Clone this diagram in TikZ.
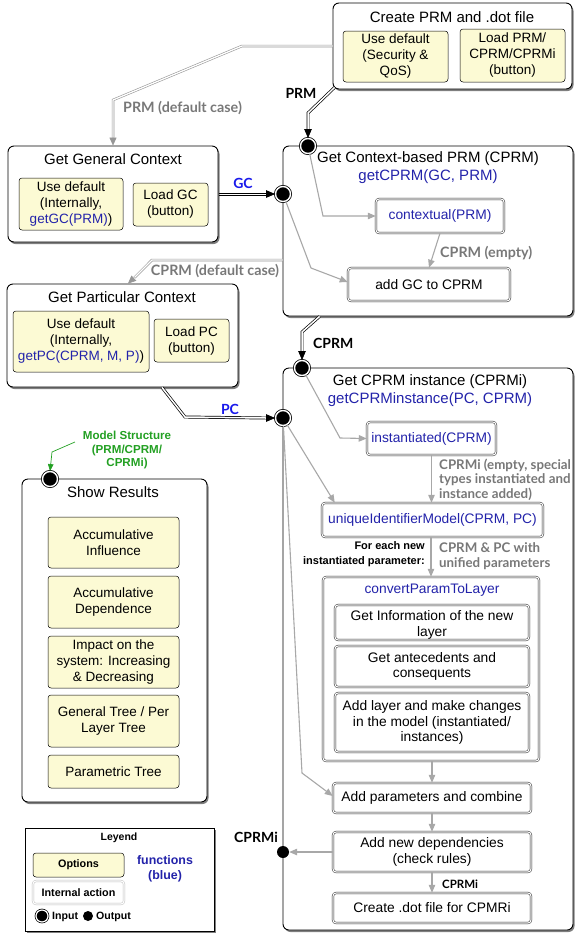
\documentclass[tikz,border=0pt]{standalone}
\usepackage{fontspec}
\setmainfont{Liberation Sans}
\newfontfamily\labfont{Lato}
\usetikzlibrary{shadows,arrows.meta,calc}

\definecolor{optyellow}{RGB}{252,250,212}
\definecolor{fnblue}{RGB}{35,35,170}
\definecolor{lblblue}{RGB}{25,25,235}
\definecolor{flowgray}{RGB}{168,168,168}
\definecolor{pathgray}{RGB}{150,150,150}
\definecolor{lblgray}{RGB}{120,120,120}
\definecolor{msgreen}{RGB}{35,160,35}

\newcommand\fsz[2]{\fontsize{#1pt}{#2pt}\selectfont}

\begin{document}
\begin{tikzpicture}[x=1pt,y=-1pt,
  frame/.style={draw=black, line width=0.9pt, rounded corners=6pt, fill=white,
    inner sep=0pt,
    drop shadow={shadow xshift=1.5pt, shadow yshift=-2pt, opacity=0.5, fill=black}},
  legendbox/.style={draw=black, line width=0.7pt, fill=white, inner sep=0pt,
    drop shadow={shadow xshift=1.5pt, shadow yshift=-2pt, opacity=0.5, fill=black}},
  title/.style={font={\fsz{15}{18}}, inner sep=0pt},
  fn/.style={font={\fsz{15}{18}}, text=fnblue, inner sep=0pt},
  opt/.style={draw=black, line width=0.5pt, rounded corners=3pt, fill=optyellow,
    align=center, inner sep=0pt, font={\fsz{13.5}{16}}},
  act/.style={draw=black!85, line width=0.5pt, double=white, double distance=1.1pt,
    rounded corners=3pt, fill=white, align=center, inner sep=0pt,
    font={\fsz{13.8}{15.8}}},
  inport/.style={circle, fill=black, draw=black, line width=0.8pt, double=white,
    double distance=1.4pt, minimum size=15pt, inner sep=0pt},
  outport/.style={circle, fill=black, minimum size=12pt, inner sep=0pt},
  dblblack/.style={draw=black, line width=0.7pt, double=white, double distance=1.5pt},
  rail/.style={draw=black, line width=0.7pt},
  blacktip/.style={draw=black, line width=0.7pt, -{Triangle[length=9pt,width=7.5pt]}},
  dblgray/.style={draw=pathgray, line width=0.6pt, double=white, double distance=1.3pt},
  graytip/.style={draw=pathgray, line width=0.6pt,
    -{Triangle[length=8pt,width=7pt]}},
  flow/.style={draw=flowgray, line width=1.1pt, -{Triangle[length=8pt,width=6.5pt]}},
  lbl/.style={font={\labfont\bfseries\fsz{14.3}{14.5}}, text=lblgray, inner sep=0pt, align=left},
  lbls/.style={lbl, font={\labfont\bfseries\fsz{13.3}{14.5}}},
  blbl/.style={font={\labfont\bfseries\fsz{14}{15}}, text=black, inner sep=0pt},
  smallb/.style={font={\bfseries\fsz{11}{15}}, inner sep=0pt},
]
\useasboundingbox (0,0) rectangle (576,938);

% ---------- Create PRM and .dot file ----------
\node[frame, minimum width=239pt, minimum height=86pt] (create) at (452.5,46) {};
\node[title] (createT) at (452,17) {Create PRM and .dot file};
\node[opt, minimum width=105pt, minimum height=51pt] (defqos) at (395.5,56.5)
  {Use default\\(Security \&\\QoS)};
\node[opt, minimum width=105pt, minimum height=53pt] (loadprm) at (512.5,55.5)
  {Load PRM/\\CPRM/CPRMi\\(button)};

% ---------- Get General Context ----------
\node[frame, minimum width=210pt, minimum height=96pt] (ggc) at (113,194) {};
\node[title] (ggcT) at (113,159) {Get General Context};
\node[opt, minimum width=104pt, minimum height=52pt] (defgc) at (71,204)
  {Use default\\(Internally,\\\textcolor{fnblue}{getGC(PRM)})};
\node[opt, minimum width=75pt, minimum height=43pt] (loadgc) at (170.5,204.5)
  {Load GC\\(button)};

% ---------- Get Particular Context ----------
\node[frame, minimum width=231pt, minimum height=103pt] (gpc) at (122.5,335.5) {};
\node[title] (gpcT) at (122,297) {Get Particular Context};
\node[opt, minimum width=136pt, minimum height=61pt] (defpc) at (81,341.5)
  {Use default\\(Internally,\\\textcolor{fnblue}{getPC(CPRM, M, P)})};
\node[opt, minimum width=75pt, minimum height=43pt] (loadpc) at (191.5,340.5)
  {Load PC\\(button)};

% ---------- Get Context-based PRM ----------
\node[frame, minimum width=290pt, minimum height=170pt] (cprm) at (428,231) {};
\node[title] (cprmT) at (428,159) {Get Context-based PRM (CPRM)};
\node[fn] (cprmF) at (428,177) {getCPRM(GC, PRM)};
\node[act, minimum width=128pt, minimum height=34pt, text=fnblue] (ctx) at (440,216)
  {contextual(PRM)};
\node[act, minimum width=162pt, minimum height=33pt] (addgc) at (429,284.5)
  {add GC to CPRM};

% ---------- Get CPRM instance ----------
\node[frame, minimum width=290pt, minimum height=562pt] (cpri) at (428,649) {};
\node[title] (cpriT) at (430,382) {Get CPRM instance (CPRMi)};
\node[fn] (cpriF) at (430,400) {getCPRMinstance(PC, CPRM)};
\node[act, minimum width=129pt, minimum height=33pt, text=fnblue] (inst) at (431.5,438.5)
  {instantiated(CPRM)};
\node[act, minimum width=221pt, minimum height=34pt, text=fnblue] (uniq) at (432.5,520)
  {uniqueIdentifierModel(CPRM, PC)};
\node[act, minimum width=216pt, minimum height=184pt] (conv) at (431,669) {};
\node[fn, font={\fsz{13.8}{16}}] (convT) at (432,590) {convertParamToLayer};
\node[act, minimum width=194pt, minimum height=35pt] (conv1) at (432,622.5) {};
\node[inner sep=0pt, align=center, font={\fsz{13.8}{15.8}}] (conv1T) at (432,625)
  {Get Information of the new\\layer};
\node[act, minimum width=194pt, minimum height=41pt] (conv2) at (432,666.5)
  {Get antecedents and\\consequents};
\node[act, minimum width=194pt, minimum height=59pt] (conv3) at (432,722.5)
  {Add layer and make changes\\in the model (instantiated/\\instances)};
\node[act, minimum width=198pt, minimum height=30pt] (addp) at (432,798)
  {Add parameters and combine};
\node[act, minimum width=198pt, minimum height=40pt] (addd) at (432,852)
  {Add new dependencies\\(check rules)};
\node[act, minimum width=198pt, minimum height=30pt] (dotf) at (432,908)
  {Create .dot file for CPMRi};

% ---------- Show Results ----------
\node[frame, minimum width=185pt, minimum height=323pt] (show) at (114.5,640.5) {};
\node[title] (showT) at (113,492) {Show Results};
\node[opt, minimum width=131pt, minimum height=51pt] (res1) at (113.5,542.5)
  {Accumulative\\Influence};
\node[opt, minimum width=131pt, minimum height=52pt] (res2) at (113.5,602)
  {Accumulative\\Dependence};
\node[opt, minimum width=131pt, minimum height=52pt] (res3) at (113.5,662)
  {Impact on the\\system: Increasing\\\& Decreasing};
\node[opt, minimum width=131pt, minimum height=52pt] (res4) at (113.5,721)
  {General Tree / Per\\Layer Tree};
\node[opt, minimum width=131pt, minimum height=33pt] (res5) at (113.5,771.5)
  {Parametric Tree};

% ---------- Legend ----------
\node[legendbox, minimum width=189pt, minimum height=103pt] (leg) at (119.5,879.5) {};
\node[font={\bfseries\fsz{10.5}{12}}, inner sep=0pt] (legT) at (119,837.5) {Leyend};
\node[opt, minimum width=91pt, minimum height=24pt, font={\bfseries\fsz{10.8}{13}}] (legO)
  at (78.5,865) {Options};
\node[act, draw=black!25, minimum width=91pt, minimum height=23pt,
  font={\bfseries\fsz{10.8}{13}}] (legA) at (78.5,892.5) {Internal action};
\node[font={\bfseries\fsz{12.4}{15}}, text=fnblue, align=center, inner sep=0pt] (legF)
  at (165,868.5) {functions\\(blue)};
\node[inport, minimum size=12pt, line width=0.7pt, double distance=1.2pt] (legIn) at (42,916) {};
\node[anchor=west, font={\bfseries\fsz{10.6}{12}}, inner sep=0pt] (legInT) at (52,916.5) {Input};
\node[outport, minimum size=10pt] (legOut) at (88,916) {};
\node[anchor=west, font={\bfseries\fsz{10.6}{12}}, inner sep=0pt] (legOutT) at (96,917) {Output};

% ---------- ports ----------
\node[inport] (inPRM) at (308,146) {};
\node[inport] (inGC) at (283,194) {};
\node[inport] (inCPRM) at (302,368) {};
\node[inport] (inPC) at (283,418) {};
\node[outport] (outCPRMi) at (283,852) {};
\node[inport] (inShow) at (50,479) {};

% ---------- connectors between stages ----------
% PRM, default case
\coordinate (pd1) at (242,46);
\coordinate (pd2) at (113,100);
\coordinate (pdT) at ([yshift=8pt]ggc.north);
\draw[dblgray] (create.west) -- (pd1) -- (pd2) -- (pdT);
\draw[graytip] (pdT) -- (ggc.north);
\node[lbl, anchor=west] (pdL) at (123,108) {PRM (default case)};

% PRM
\coordinate (p0) at ([xshift=2pt,yshift=2pt]create.south west);
\coordinate (p1) at (308,113);
\coordinate (pT) at ([yshift=9pt]inPRM.north);
\draw[dblblack] (p0) -- (p1) -- (pT);
\draw[blacktip] (pT) -- (inPRM.north);
\node[blbl] (pL) at (301,93) {PRM};

% GC: the two rails of the double line drawn one by one
\coordinate (gS) at (218.5,194);
\coordinate (gT) at (266.5,194);
\draw[rail] ([yshift=1.1pt]gS) -- ([yshift=1.1pt]gT);
\draw[rail] ([yshift=-1.1pt]gS) -- ([yshift=-1.1pt]gT);
\draw[blacktip] (gT) -- (inGC.west);
\node[font={\labfont\bfseries\fsz{14}{15}}, text=lblblue, inner sep=0pt] (gcL) at (243,183) {GC};

% CPRM, default case
\coordinate (cd0) at ([yshift=-29pt]cprm.west);
\coordinate (cd1) at (152,260);
\coordinate (cd2) at ([xshift=5.5pt]gpc.north);
\coordinate (cdT) at ($(cd2)+(6.5,-6)$);
\draw[dblgray] (cd0) -- (cd1) -- (cdT);
\draw[graytip] (cdT) -- (cd2);
\node[lbl] (cdL) at (215,271) {CPRM (default case)};

% CPRM
\coordinate (c0) at ([xshift=37pt]cprm.south west);
\coordinate (c1) at (302,332);
\coordinate (cT) at ([yshift=9pt]inCPRM.north);
\draw[dblblack] (c0) -- (c1) -- (cT);
\draw[blacktip] (cT) -- (inCPRM.north);
\node[blbl, anchor=west] (cL) at (313,343) {CPRM};

% PC
\coordinate (pc0) at ([xshift=39.5pt]gpc.south);
\coordinate (pc1) at (185,417);
\coordinate (pcT) at ([xshift=-9pt]inPC.west);
\draw[dblblack] (pc0) -- (pc1) -- (pcT);
\draw[blacktip] (pcT) -- (inPC.west);
\node[font={\labfont\bfseries\fsz{14}{15}}, text=lblblue, inner sep=0pt] (pcL) at (230,409) {PC};

% Model structure into Show Results
\coordinate (ms0) at (75,442);
\coordinate (ms1) at (52,452);
\draw[msgreen, line width=0.7pt, -{Triangle[length=7pt,width=5.5pt]}]
  (ms0) -- (ms1) -- (inShow.north);
\node[font={\bfseries\fsz{11.6}{13.5}}, text=msgreen, align=center, inner sep=0pt] (msL)
  at (127,450) {Model Structure\\(PRM/CPRM/\\CPRMi)};

% ---------- flows inside Get Context-based PRM ----------
\coordinate (f1) at (323,216);
\draw[flow] (inPRM) -- (f1) -- (ctx.west);
\coordinate (f2) at (311,268);
\draw[flow] (inGC) -- (f2) -- ([yshift=2.5pt]addgc.west);
\draw[flow] (ctx.south) -- (addgc.north);
\node[lbl, anchor=west] (emptyL) at (440,253) {CPRM (empty)};

% ---------- flows inside Get CPRM instance ----------
\coordinate (f3) at (340,438);
\draw[flow] (inCPRM) -- (f3) -- (inst.west);
\draw[flow] (inst.south) -- (inst.south |- uniq.north);
\node[lbls, anchor=west] (instL) at (439,479.5)
  {CPRMi (empty, special\\types instantiated and\\instance added)};
\draw[flow] (inPC) -- ([xshift=13pt]uniq.north west);
\draw[flow] (uniq.south -| conv.north) -- (conv.north);
\node[lbls, anchor=west] (uniqL) at (439,556) {CPRM \& PC with\\unified parameters};
\node[smallb, anchor=east, align=right] (eachL) at (425,554.5)
  {For each new\\instantiated parameter:};
\coordinate (f4) at (302,773);
\draw[flow] (inPC) -- (f4) -- ([yshift=2pt]addp.west);
\draw[flow] (conv.south -| addp.north) -- (addp.north);
\draw[flow] (addp.south) -- (addd.north);
\draw[flow] (addd.west) -- (outCPRMi.east);
\node[blbl, anchor=east] (outL) at (278,837) {CPRMi};
\draw[flow] (addd.south) -- (dotf.north);
\node[font={\labfont\bfseries\fsz{11.5}{13}}, inner sep=0pt, anchor=west] (dotL) at (442,884) {CPRMi};
\end{tikzpicture}
\end{document}
